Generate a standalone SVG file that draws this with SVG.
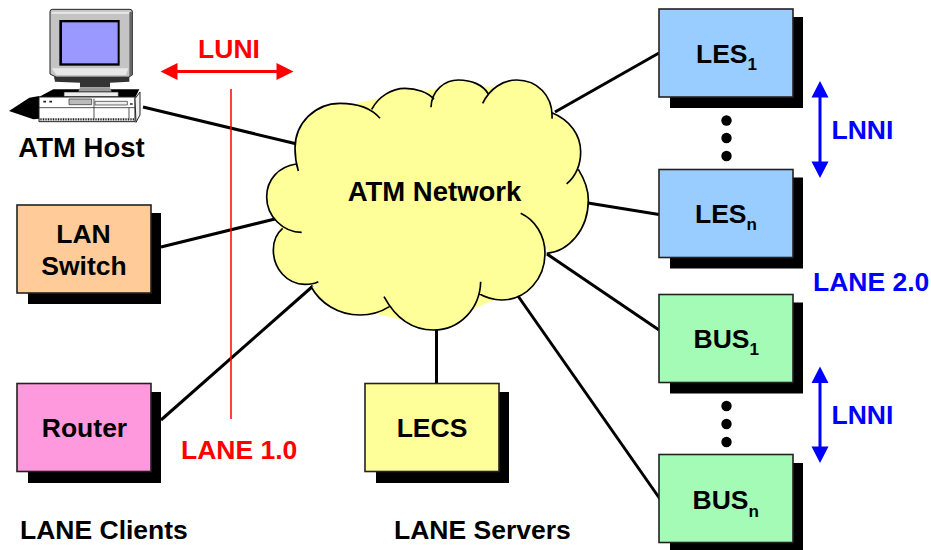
<svg xmlns="http://www.w3.org/2000/svg" width="931" height="550" viewBox="0 0 931 550">
<style>
text{font-family:"Liberation Sans",Arial,sans-serif;font-weight:700;font-size:26.5px;fill:#000}
.c{text-anchor:middle}
.big{font-size:27.500px}
.sub{font-size:17px}
.red{fill:#f00}
.blue{fill:#00f}
.shadow{fill:#000}
.box{stroke:#222;stroke-width:1.6}
.les{fill:#99CCFF}
.bus{fill:#A3FBB5}
.yel{fill:#FFFF99}
.conn line{stroke:#000;stroke-width:3}
.dot{fill:#000}
</style>
<defs>
<path id="cl" d="M115,303C108,280 105,260 105,235C105,160 165,100 240,100C290,100 335,115 360,145M335,118C355,80 395,55 435,55C470,55 505,68 522,88M513,112C515,60 555,30 595,30C635,30 670,45 685,72M668,100C690,55 730,30 770,30C830,30 880,75 876,146M876,128C930,150 962,195 962,245C962,285 945,320 920,342M955,298C975,330 985,360 985,390C985,480 925,545 860,550M782,430C825,450 855,495 855,550C855,625 800,690 725,690C700,690 675,682 655,670M662,635C660,715 600,780 520,780C460,780 410,750 372,680M388,710C360,728 330,735 300,735C235,735 180,700 152,648M175,635C165,640 150,643 135,643C80,643 40,595 40,540C40,515 50,490 68,475M125,487C70,487 20,440 20,380C20,330 55,290 108,282"/>
</defs>
<g id="connectors" class="conn">
<line x1="143" y1="107" x2="297" y2="144"/>
<line x1="161" y1="247" x2="275" y2="219"/>
<line x1="161" y1="420" x2="313" y2="286"/>
<line x1="436.500" y1="328" x2="436.500" y2="383"/>
<line x1="555" y1="112" x2="659" y2="53"/>
<line x1="588" y1="203" x2="659" y2="214.500"/>
<line x1="547" y1="254" x2="659" y2="330"/>
<line x1="518" y1="296" x2="660" y2="499"/>
</g>
<g id="lane10">
<line x1="231" y1="89" x2="231" y2="419" stroke="#f00" stroke-width="1.500"/>
<path d="M175,71.500H279" stroke="#f00" stroke-width="3" fill="none"/>
<path d="M160.500,71.500L177.500,63V80ZM293.500,71.500L276.500,63V80Z" fill="#f00"/>
<text class="red c" x="229" y="58">LUNI</text>
<text class="red" x="181" y="459">LANE 1.0</text>
</g>
<g id="atm-host">
<g transform="scale(0.33333)">
<path d="M27,333L88,293L118,288V356L100,358Z" fill="#000"/>
<path d="M118,290L160,268H418L404,296H118Z" fill="#000"/>
<path d="M150,35Q150,28 158,28H390Q397,28 397,36V225L385,232H170L150,222Z" fill="#c4c4c4" stroke="#222" stroke-width="3"/>
<path d="M155,35H392V42H155Z" fill="#e4e4e4"/>
<path d="M155,205L385,205L378,225H170Z" fill="#e8e8e8"/>
<path d="M388,36L396,36V225L388,232Z" fill="#666"/>
<rect x="178" y="60" width="181" height="137" fill="#000"/>
<rect x="186" y="67" width="167" height="123" fill="#9999FF"/>
<path d="M162,230H388V245L330,248V262L240,262V248L165,245Z" fill="#333"/>
<path d="M240,262H330L335,275H235Z" fill="#999"/>
<path d="M192,276H355V290H192Z" fill="#eee" stroke="#222" stroke-width="2"/>
<path d="M117,291H405V365H117Z" fill="#fff" stroke="#222" stroke-width="3"/>
<path d="M405,296L420,276V345L408,367Z" fill="#f0f0f0" stroke="#222" stroke-width="3"/>
<path d="M207,297H275V314H207Z" fill="#bbb" stroke="#222" stroke-width="2"/>
<path d="M285,304H382V315H285Z" fill="#eee" stroke="#222" stroke-width="2"/>
<path d="M282,296V355M117,323H405M387,323V355" stroke="#333" stroke-width="2.500" fill="none"/>
<path d="M119,358H403" stroke="#222" stroke-width="7" stroke-dasharray="3 2" fill="none"/>
<path d="M130,305h8M148,305h8M390,312h8" stroke="#222" stroke-width="5" fill="none"/>
</g>
<text class="c big" x="81.500" y="157">ATM Host</text>
</g>
<g id="lan-switch">
<rect class="shadow" x="28" y="213" width="133" height="91"/>
<rect class="box" x="17" y="205" width="134" height="88" fill="#FFCC99"/>
<text class="c" x="83.500" y="243">LAN</text>
<text class="c" x="84" y="275">Switch</text>
</g>
<g id="router">
<rect class="shadow" x="28" y="392" width="133" height="91"/>
<rect class="box" x="17" y="383.500" width="134" height="88" fill="#FF99DD"/>
<text class="c" x="84.500" y="437">Router</text>
</g>
<g id="cloud">
<g transform="translate(260 70) scale(0.33333)">
<use href="#cl" fill="#FFFF99"/>
<polygon points="115,290 240,110 430,70 590,50 770,50 880,140 950,300 970,400 850,550 725,680 520,770 300,720 150,640 60,480 60,380" fill="#FFFF99"/>
<use href="#cl" fill="none" stroke="#000" stroke-width="5"/>
</g>
<text class="c big" x="434.500" y="200.500">ATM Network</text>
</g>
<g id="lecs">
<rect class="shadow" x="376" y="392" width="133" height="91"/>
<rect class="box yel" x="365" y="383.500" width="134" height="88"/>
<text class="c" x="432" y="437">LECS</text>
</g>
<g id="les1">
<rect class="shadow" x="670" y="17" width="133" height="91"/>
<rect class="box les" x="659" y="9" width="134" height="88"/>
<text x="696" y="62.500">LES<tspan class="sub" dy="7">1</tspan></text>
</g>
<g id="lesn">
<rect class="shadow" x="670" y="177.500" width="133" height="91"/>
<rect class="box les" x="659" y="169.500" width="134" height="88"/>
<text x="695" y="222.500">LES<tspan class="sub" dy="7.500">n</tspan></text>
</g>
<g id="bus1">
<rect class="shadow" x="670" y="302.500" width="133" height="91"/>
<rect class="box bus" x="659" y="294.500" width="134" height="88"/>
<text x="693.500" y="348">BUS<tspan class="sub" dy="7">1</tspan></text>
</g>
<g id="busn">
<rect class="shadow" x="670" y="463" width="133" height="91"/>
<rect class="box bus" x="659" y="454.500" width="134" height="88"/>
<text x="692.500" y="509">BUS<tspan class="sub" dy="7.500">n</tspan></text>
</g>
<g id="dots">
<circle class="dot" cx="726.500" cy="120.500" r="5.200"/>
<circle class="dot" cx="726.500" cy="138" r="5.200"/>
<circle class="dot" cx="726.500" cy="156" r="5.200"/>
<circle class="dot" cx="726.500" cy="406" r="5.200"/>
<circle class="dot" cx="726.500" cy="424" r="5.200"/>
<circle class="dot" cx="726.500" cy="442" r="5.200"/>
</g>
<g id="lane20">
<path d="M820,95V164M820,381V449" stroke="#00f" stroke-width="3" fill="none"/>
<path d="M820,81L828.500,97.500H811.500ZM820,178L828.500,161.500H811.500ZM820,366.500L828.500,383H811.500ZM820,463L828.500,446.500H811.500Z" fill="#00f"/>
<text class="blue" x="831.500" y="139">LNNI</text>
<text class="blue" x="831.500" y="424">LNNI</text>
<text class="blue" x="813" y="290.500">LANE 2.0</text>
</g>
<text id="clients" x="20" y="539">LANE Clients</text>
<text id="servers" x="394" y="539">LANE Servers</text>
</svg>
